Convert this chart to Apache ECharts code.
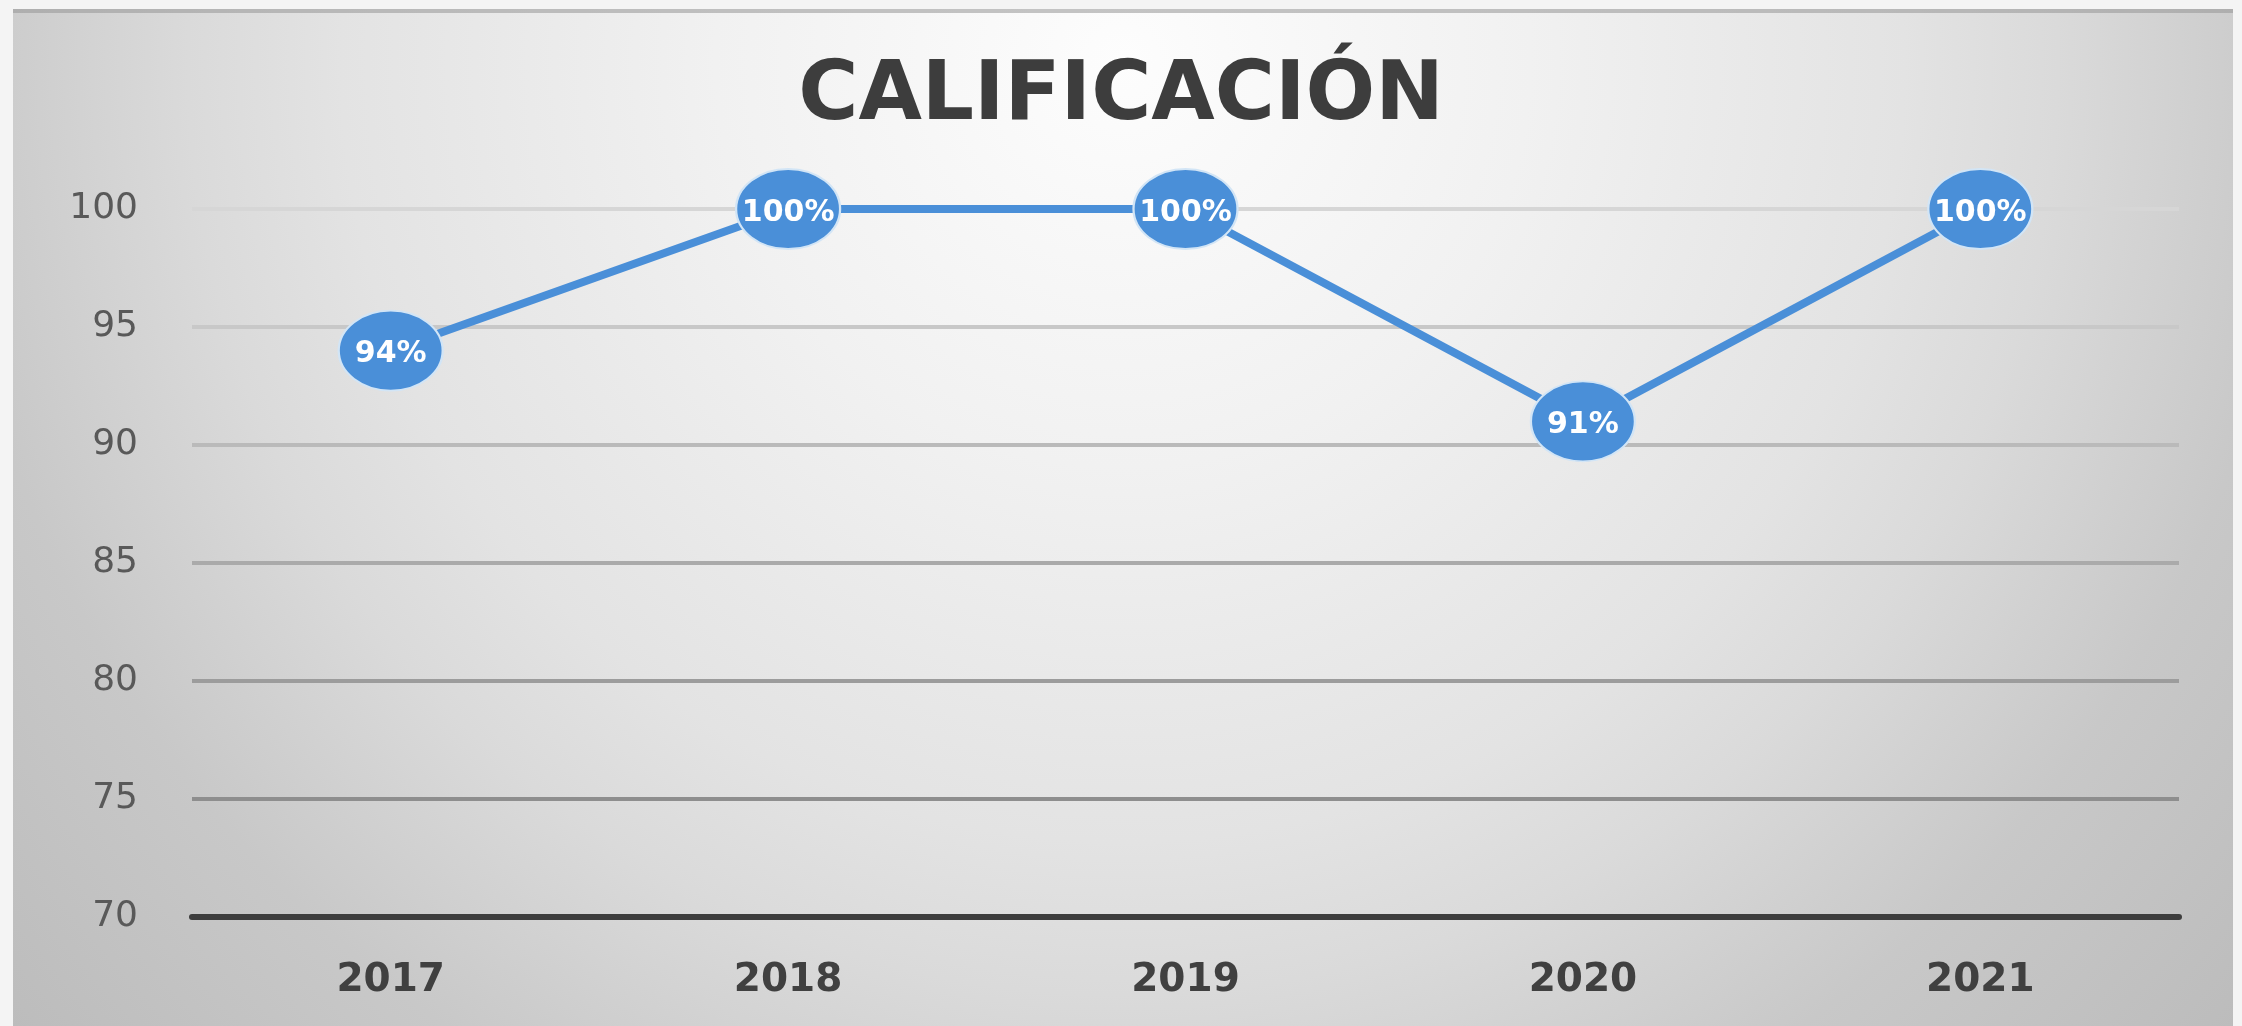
<!DOCTYPE html>
<html>
<head>
<meta charset="utf-8">
<script src="https://cdn.jsdelivr.net/npm/echarts@6/dist/echarts.min.js"></script>
<style>
html,body{margin:0;padding:0;background:#f4f4f4;}
#chart{width:2242px;height:1026px;}
</style>
</head>
<body>
<div id="chart"></div>
<script>
const titleText = 'CALIFICACIÓN';
const categories = ['2017', '2018', '2019', '2020', '2021'];
const values = [94, 100, 100, 91, 100];
const yMin = 70, yMax = 100, yStep = 5;

const chart = echarts.init(document.getElementById('chart'), null, {renderer: 'canvas'});
chart.setOption({
  backgroundColor: '#f4f4f4',
  animation: false,
  graphic: [
    {
      type: 'rect', z: -10, silent: true,
      shape: {x: 13, y: 9, width: 2220, height: 1017},
      style: {
        fill: {
          type: 'radial', x: 0.5, y: 0.05, r: 1.45,
          colorStops: [
            {offset: 0, color: '#fdfdfd'},
            {offset: 0.276, color: '#f1f1f1'},
            {offset: 0.53, color: '#e3e3e3'},
            {offset: 0.634, color: '#dadada'},
            {offset: 0.8, color: '#c8c8c8'},
            {offset: 1, color: '#bcbcbc'}
          ]
        }
      }
    },
    {
      type: 'rect', z: -9, silent: true,
      shape: {x: 13, y: 9, width: 2220, height: 4},
      style: {fill: 'rgba(150,150,150,0.55)'}
    }
  ],
  title: {
    text: titleText,
    left: 'center',
    top: 52,
    textStyle: {
      fontFamily: 'DejaVu Sans',
      fontWeight: 'bold',
      fontSize: 82,
      color: '#3d3d3d'
    }
  },
  grid: {left: 192, right: 63, top: 209, bottom: 109, containLabel: false},
  xAxis: {
    type: 'category',
    data: categories,
    boundaryGap: true,
    axisLine: {show: true, onZero: false, lineStyle: {color: '#3d3d3d', width: 6}},
    axisTick: {show: false},
    axisLabel: {
      margin: 44,
      fontFamily: 'DejaVu Sans',
      fontWeight: 'bold',
      fontSize: 39,
      color: '#404040'
    },
    splitLine: {show: false}
  },
  yAxis: {
    type: 'value',
    min: yMin, max: yMax, interval: yStep,
    axisLine: {show: false},
    axisTick: {show: false},
    axisLabel: {
      margin: 54,
      fontFamily: 'DejaVu Sans',
      fontSize: 36,
      color: '#595959'
    },
    splitLine: {
      show: true,
      lineStyle: {
        width: 4,
        color: ['#555555', '#8e8e8e', '#9c9c9c', '#aaaaaa', '#bababa', '#c8c8c8', '#d6d6d6']
      }
    }
  },
  series: [{
    type: 'line',
    data: values,
    clip: false,
    symbol: 'circle',
    symbolSize: [104, 80],
    lineStyle: {color: '#4a8fd8', width: 8},
    itemStyle: {color: '#4a8fd8', borderColor: '#d2e5f6', borderWidth: 2},
    label: {
      show: true,
      position: 'inside',
      offset: [0, 4],
      formatter: '{c}%',
      fontFamily: 'DejaVu Sans',
      fontWeight: 'bold',
      fontSize: 30,
      color: '#ffffff'
    },
    z: 3
  }]
});
</script>
</body>
</html>
